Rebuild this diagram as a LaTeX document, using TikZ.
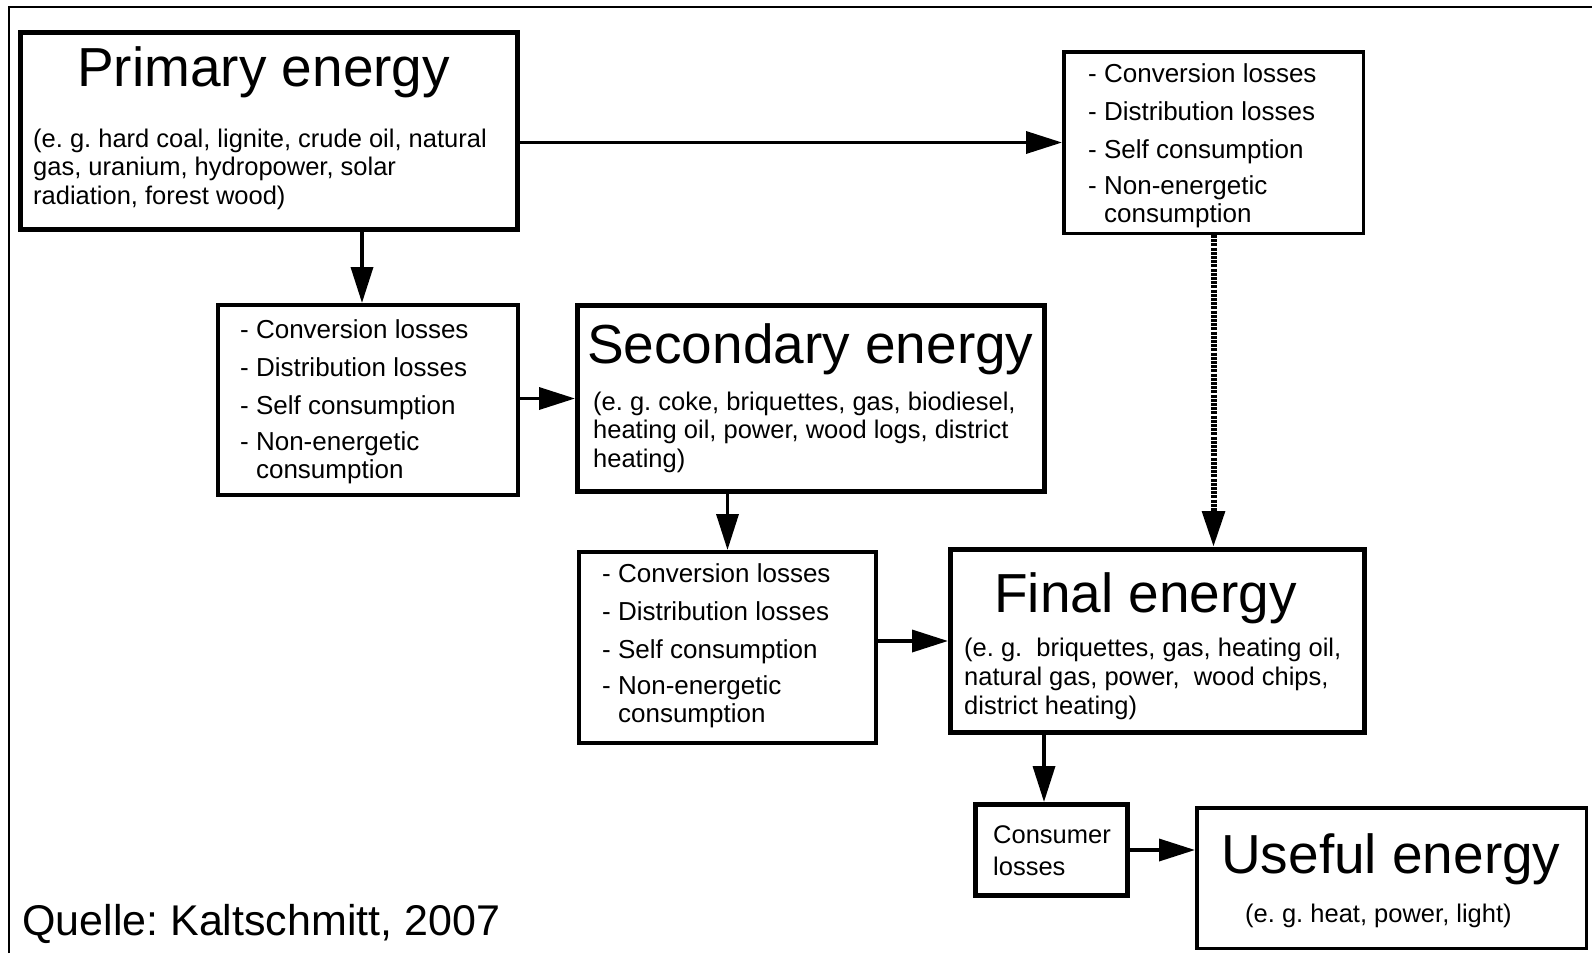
\documentclass[tikz,border=0pt]{standalone}
\usepackage{fontspec}
\setmainfont{Liberation Sans}
\usetikzlibrary{arrows.meta}
\frenchspacing
\newcommand\mylosslist[3]{%
  \foreach \yy/\txt [count=\i] in {0/{- Conversion losses},38/{- Distribution losses},76/{- Self consumption},112/{- Non-energetic},140/{\phantom{- }consumption}}
    \node[itemtext] (#1\i) at (#2,#3+\yy) {\txt};
}
\begin{document}
\frenchspacing
\begin{tikzpicture}[x=1pt,y=-1pt,
  box/.style={draw,rectangle,inner sep=0pt},
  arr/.style={line width=3.5pt,-{Triangle[length=36pt,width=22pt]}},
  titletext/.style={anchor=base west,inner sep=0pt,font=\fontsize{55}{60}\selectfont},
  subtext/.style={anchor=base west,inner sep=0pt,font=\fontsize{25.5}{28}\selectfont},
  itemtext/.style={anchor=base west,inner sep=0pt,font=\fontsize{26}{28}\selectfont}]
\useasboundingbox (0,0) rectangle (1592,953);
\fill[white] (0,0) rectangle (1592,953);
% frame
\draw[line width=2pt] (9,953) -- (9,7) -- (1592,7);
% boxes
\node[box,line width=5pt,minimum width=497pt,minimum height=197pt] (P) at (269,131) {};
\node[box,line width=3.5pt,minimum width=299.5pt,minimum height=181.5pt] (L1) at (1213.5,142.5) {};
\node[box,line width=4pt,minimum width=300pt,minimum height=190pt] (L2) at (368,400) {};
\node[box,line width=5pt,minimum width=467pt,minimum height=186pt] (S) at (811,398.5) {};
\node[box,line width=4pt,minimum width=297pt,minimum height=191pt] (L3) at (727.5,647.5) {};
\node[box,line width=5pt,minimum width=414pt,minimum height=183pt] (F) at (1157.5,641) {};
\node[box,line width=5pt,minimum width=152pt,minimum height=91pt] (C) at (1051.5,850) {};
\node[box,line width=3.5pt,minimum width=389.5pt,minimum height=140.5pt] (U) at (1391.5,878) {};
% primary text
\node[titletext] (Pt) at (77,86) {Primary energy};
\node[subtext] (Ps1) at (33,147) {(e. g. hard coal, lignite, crude oil, natural};
\node[subtext] (Ps2) at (33,175.5) {gas, uranium, hydropower, solar};
\node[subtext] (Ps3) at (33,204) {radiation, forest wood)};
% secondary text
\node[titletext] (St) at (587,363) {Secondary energy};
\node[subtext] (Ss1) at (593,410) {(e. g. coke, briquettes, gas, biodiesel,};
\node[subtext] (Ss2) at (593,438.5) {heating oil, power, wood logs, district};
\node[subtext] (Ss3) at (593,467) {heating)};
% final text
\node[titletext] (Ft) at (994,612) {Final energy};
\node[subtext] (Fs1) at (964,656) {(e. g.\ \ briquettes, gas, heating oil,};
\node[subtext] (Fs2) at (964,685) {natural gas, power,\ \ wood chips,};
\node[subtext] (Fs3) at (964,714) {district heating)};
% loss lists
\mylosslist{La}{1088}{82}
\mylosslist{Lb}{240}{338}
\mylosslist{Lc}{602}{582}
% consumer
\node[subtext] (Ct1) at (993,843) {Consumer};
\node[subtext] (Ct2) at (993,875) {losses};
% useful
\node[titletext] (Ut) at (1221,873) {Useful energy};
\node[subtext] (Us) at (1245,922) {(e. g. heat, power, light)};
% source
\node[anchor=base west,inner sep=0pt,font=\fontsize{43}{46}\selectfont] (Q) at (22,935) {Quelle: Kaltschmitt, 2007};
% arrows
\coordinate (xa) at (362,0);
\coordinate (xb) at (1044,0);
\draw[arr] (P.east |- L1.west) -- (L1.west);
\draw[arr] (P.south -| xa) -- (L2.north -| xa);
\draw[arr] (L2.east |- S.west) -- (S.west);
\draw[arr] (S.south -| L3.north) -- (L3.north);
\draw[arr] (L3.east |- F.west) -- (F.west);
\draw[arr,line width=6pt,dash pattern=on 3pt off 1.2pt] (L1.south) -- (L1.south |- F.north);
\draw[arr] (F.south -| xb) -- (C.north -| xb);
\draw[arr] (C.east) -- (C.east -| U.west);
\end{tikzpicture}
\end{document}
